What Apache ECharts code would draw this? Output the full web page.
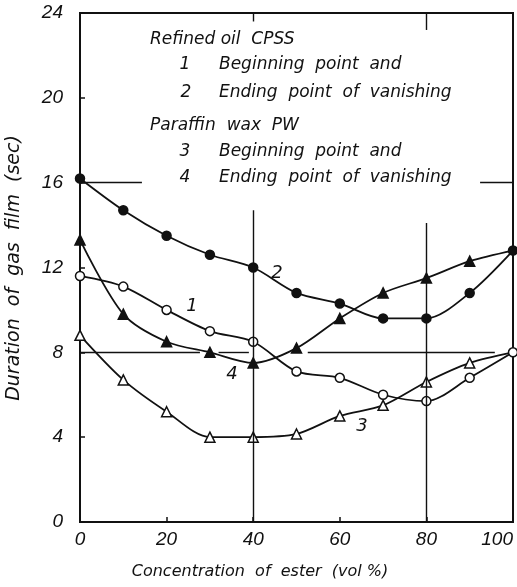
<!DOCTYPE html>
<html>
<head>
<meta charset="utf-8">
<script src="https://cdn.jsdelivr.net/npm/echarts@6/dist/echarts.min.js"></script>
<style>
  html, body { margin: 0; padding: 0; background: #fff; }
  #chart { width: 517px; height: 587px; }
</style>
</head>
<body>
<div id="chart"></div>
<script>
// Concentration of ester (vol %)
const conc = [0, 10, 20, 30, 40, 50, 60, 70, 80, 90, 100];
// Refined oil CPSS: 1 beginning / 2 ending point of vanishing (sec)
const cpssBegin = [11.6, 11.1, 10.0, 9.0, 8.5, 7.1, 6.8, 6.0, 5.7, 6.8, 8.0];
const cpssEnd   = [16.2, 14.7, 13.5, 12.6, 12.0, 10.8, 10.3, 9.6, 9.6, 10.8, 12.8];
// Paraffin wax PW: 3 beginning / 4 ending point of vanishing (sec)
const pwBegin = [8.8, 6.7, 5.2, 4.0, 4.0, 4.15, 5.0, 5.5, 6.6, 7.5, 8.0];
const pwEnd   = [13.3, 9.8, 8.5, 8.0, 7.5, 8.2, 9.6, 10.8, 11.5, 12.3, 12.8];
// Axis ticks
const xTicks = [0, 20, 40, 60, 80, 100];
const yTicks = [0, 4, 8, 12, 16, 20, 24];

const INK = '#111';
const HAND = '"Liberation Sans Narrow", "Liberation Sans", sans-serif';
const NOTE = '"DejaVu Sans", sans-serif';

// Broken guide lines drawn across the plot, in data units
const guideSegments = [
  [[0, 16], [14.3, 16]], [[92.4, 16], [100, 16]],
  [[0, 8], [27.7, 8]], [[32, 8], [39, 8]], [[52.6, 8], [95.8, 8]],
  [[40, 23.6], [40, 24]], [[40, 14.7], [40, 0]],
  [[80, 23.2], [80, 24]], [[80, 14.1], [80, 0]]
];

// The last point of curves 3 and 4 meets curves 1 and 2 at 100 %, marker shown once
function pts(ys, hideLast) {
  return conc.map((x, i) => {
    const item = { value: [x, ys[i]] };
    if (hideLast && i === conc.length - 1) item.symbol = 'none';
    return item;
  });
}

function curve(name, ys, symbol, filled, size, hideLast) {
  return {
    name: name,
    type: 'line',
    data: pts(ys, hideLast),
    smooth: 0.3,
    symbol: symbol,
    symbolSize: size,
    showAllSymbol: true,
    lineStyle: { color: INK, width: 1.8 },
    itemStyle: { color: filled ? INK : '#fff', borderColor: INK, borderWidth: 1.5 },
    z: 3
  };
}

const chart = echarts.init(document.getElementById('chart'));

const series = [
  curve('1', cpssBegin, 'circle', false, 9, false),
  curve('2', cpssEnd, 'circle', true, 9, false),
  curve('3', pwBegin, 'triangle', false, 10, true),
  curve('4', pwEnd, 'triangle', true, 10, true),
  {
    name: 'guides',
    type: 'line',
    data: [],
    silent: true,
    z: 1,
    markLine: {
      silent: true,
      symbol: ['none', 'none'],
      label: { show: false },
      lineStyle: { color: INK, width: 1.4, type: 'solid' },
      data: guideSegments.map(s => [{ coord: s[0] }, { coord: s[1] }])
    }
  }
];

function textAt(x, y, text, size, align) {
  return {
    type: 'text',
    x: x, y: y,
    style: {
      text: text,
      fill: INK,
      font: 'italic ' + size + 'px ' + NOTE,
      textAlign: align || 'left',
      textVerticalAlign: 'middle'
    },
    z: 10
  };
}

const notes = [
  textAt(150, 40, 'Refined oil  CPSS', 17),
  textAt(185, 65, '1', 17, 'center'),
  textAt(219, 65, 'Beginning  point  and', 17),
  textAt(186, 93, '2', 17, 'center'),
  textAt(219, 93, 'Ending  point  of  vanishing', 17),
  textAt(150, 126, 'Paraffin  wax  PW', 17),
  textAt(185, 152, '3', 17, 'center'),
  textAt(219, 152, 'Beginning  point  and', 17),
  textAt(185, 178, '4', 17, 'center'),
  textAt(219, 178, 'Ending  point  of  vanishing', 17),
  // curve numbers
  textAt(192, 306, '1', 18, 'center'),
  textAt(277, 273, '2', 18, 'center'),
  textAt(362, 426, '3', 18, 'center'),
  textAt(232, 374, '4', 18, 'center'),
  // axis titles
  textAt(260, 572, 'Concentration  of  ester  (vol %)', 16, 'center'),
  {
    type: 'text',
    x: 14, y: 268,
    rotation: Math.PI / 2,
    style: {
      text: 'Duration  of  gas  film  (sec)',
      fill: INK,
      font: 'italic 19px ' + NOTE,
      textAlign: 'center',
      textVerticalAlign: 'middle'
    },
    z: 10
  }
];

chart.setOption({
  backgroundColor: '#fff',
  animation: false,
  grid: {
    left: 80, right: 4, top: 13, bottom: 65,
    show: true, borderColor: INK, borderWidth: 2, backgroundColor: 'transparent'
  },
  xAxis: {
    type: 'value',
    min: xTicks[0], max: xTicks[xTicks.length - 1], interval: 20,
    axisLine: { show: true, lineStyle: { color: INK, width: 2 } },
    axisTick: { show: true, inside: true, length: 5, lineStyle: { color: INK, width: 1.5 } },
    splitLine: { show: false },
    axisLabel: {
      margin: 8, color: INK, fontSize: 19, fontStyle: 'italic', fontFamily: HAND,
      alignMaxLabel: 'right',
      formatter: v => (xTicks.indexOf(v) >= 0 ? String(v) : '')
    }
  },
  yAxis: {
    type: 'value',
    min: yTicks[0], max: yTicks[yTicks.length - 1], interval: 4,
    axisLine: { show: true, lineStyle: { color: INK, width: 2 } },
    axisTick: { show: true, inside: true, length: 5, lineStyle: { color: INK, width: 1.5 } },
    splitLine: { show: false },
    axisLabel: {
      margin: 17, color: INK, fontSize: 19, fontStyle: 'italic', fontFamily: HAND,
      formatter: v => (yTicks.indexOf(v) >= 0 ? String(v) : '')
    }
  },
  series: series,
  graphic: notes
});
</script>
</body>
</html>
